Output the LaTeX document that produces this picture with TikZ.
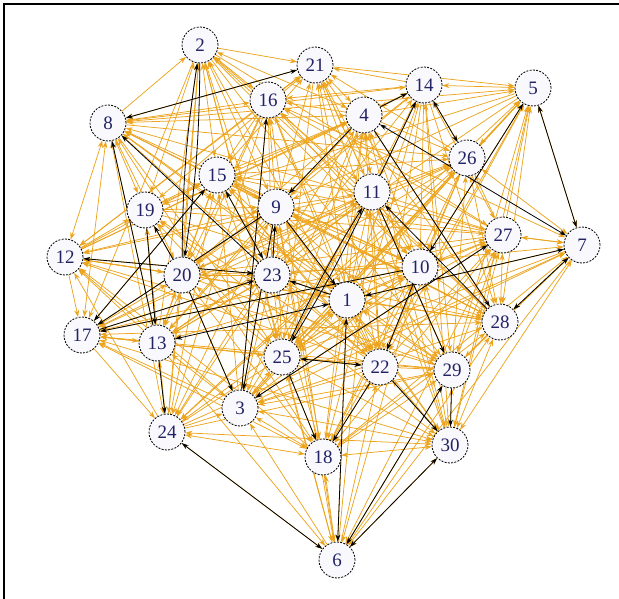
\documentclass[tikz,border=0pt]{standalone}
\usepackage{fontspec}
\setmainfont{Liberation Serif}
\usetikzlibrary{arrows.meta}
\pgfdeclarelayer{bg}
\pgfsetlayers{bg,main}
\definecolor{ocol}{RGB}{236,164,30}
\definecolor{ncol}{RGB}{248,248,253}
\definecolor{tcol}{RGB}{35,35,100}
\def\PX{{0,347,200,240,364,533,337,582,108,276,420,372,65,157,424,217,268,82,323,145,182,315,380,272,167,282,467,503,500,452,450}}
\def\PY{{0,300,45,408,115,88,560,245,123,207,267,192,257,343,85,175,100,335,457,210,275,65,367,275,432,357,158,235,322,370,445}}
\tikzset{
  vnode/.style={circle, draw=black, dash pattern=on 2pt off 1.3pt, line width=0.8pt,
    fill=ncol, minimum size=36pt, inner sep=0pt, text=tcol,
    font=\fontsize{19}{19}\selectfont},
  oe/.style={draw=ocol, line width=0.75pt, >={Stealth[length=7pt,width=5pt]}},
  be/.style={draw=black, line width=0.8pt, >={Stealth[length=7pt,width=4.5pt]}},
}
\begin{document}
\begin{tikzpicture}[x=1pt,y=-1pt]
\useasboundingbox (0,0) rectangle (619,599);
\draw[line width=1.2pt] (4,599) -- (4,4) -- (619,4);
\node[vnode] (n1) at (347,300) {1};
\node[vnode] (n2) at (200,45) {2};
\node[vnode] (n3) at (240,408) {3};
\node[vnode] (n4) at (364,115) {4};
\node[vnode] (n5) at (533,88) {5};
\node[vnode] (n6) at (337,560) {6};
\node[vnode] (n7) at (582,245) {7};
\node[vnode] (n8) at (108,123) {8};
\node[vnode] (n9) at (276,207) {9};
\node[vnode] (n10) at (420,267) {10};
\node[vnode] (n11) at (372,192) {11};
\node[vnode] (n12) at (65,257) {12};
\node[vnode] (n13) at (157,343) {13};
\node[vnode] (n14) at (424,85) {14};
\node[vnode] (n15) at (217,175) {15};
\node[vnode] (n16) at (268,100) {16};
\node[vnode] (n17) at (82,335) {17};
\node[vnode] (n18) at (323,457) {18};
\node[vnode] (n19) at (145,210) {19};
\node[vnode] (n20) at (182,275) {20};
\node[vnode] (n21) at (315,65) {21};
\node[vnode] (n22) at (380,367) {22};
\node[vnode] (n23) at (272,275) {23};
\node[vnode] (n24) at (167,432) {24};
\node[vnode] (n25) at (282,357) {25};
\node[vnode] (n26) at (467,158) {26};
\node[vnode] (n27) at (503,235) {27};
\node[vnode] (n28) at (500,322) {28};
\node[vnode] (n29) at (452,370) {29};
\node[vnode] (n30) at (450,445) {30};
\begin{pgfonlayer}{bg}
\pgfmathsetseed{7}
\foreach \i in {1,...,29}{
  \pgfmathtruncatemacro\istart{\i+1}
  \foreach \j in {\istart,...,30}{
    \pgfmathsetmacro\dd{veclen(\PX[\i]-\PX[\j],\PY[\i]-\PY[\j])}
    \pgfmathsetmacro\pp{1.1-\dd/600}
    \pgfmathsetmacro\rr{rnd}
    \pgfmathsetmacro\ss{rnd}
    \ifdim\rr pt<\pp pt
      \ifdim\ss pt<0.3pt \draw[oe,->] (n\i) -- (n\j);
      \else\ifdim\ss pt<0.6pt \draw[oe,<-] (n\i) -- (n\j);
      \else \draw[oe,<->] (n\i) -- (n\j); \fi\fi
    \fi
  }
}
% black edges
\draw[be,->] (n2) to[bend left=4] (n20);
\draw[be,->] (n20) to[bend left=4] (n2);
\draw[be,<->] (n8) -- (n21);
\draw[be,->] (n13) -- (n8);
\draw[be,->] (n23) -- (n8);
\draw[be,<->] (n14) -- (n26);
\draw[be,<->] (n5) -- (n10);
\draw[be,<->] (n5) -- (n7);
\draw[be,->] (n4) -- (n14);
\draw[be,->] (n11) -- (n14);
\draw[be,<->] (n4) -- (n7);
\draw[be,->] (n4) -- (n9);
\draw[be,->] (n4) -- (n28);
\draw[be,->] (n25) to[bend left=3] (n11);
\draw[be,->] (n11) to[bend left=3] (n25);
\draw[be,->] (n28) -- (n11);
\draw[be,->] (n11) -- (n29);
\draw[be,<->] (n1) -- (n7);
\draw[be,<->] (n7) -- (n28);
\draw[be,<->] (n27) -- (n3);
\draw[be,->] (n22) -- (n30);
\draw[be,->] (n29) -- (n30);
\draw[be,<->] (n6) -- (n29);
\draw[be,<->] (n6) -- (n30);
\draw[be,<->] (n24) -- (n6);
\draw[be,<->] (n1) -- (n6);
\draw[be,->] (n13) -- (n24);
\draw[be,->] (n10) -- (n17);
\draw[be,<->] (n17) -- (n15);
\draw[be,->] (n9) -- (n17);
\draw[be,<->] (n1) -- (n13);
\draw[be,->] (n17) -- (n23);
\draw[be,<->] (n12) -- (n23);
\draw[be,->] (n20) -- (n19);
\draw[be,->] (n19) -- (n13);
\draw[be,->] (n20) -- (n3);
\draw[be,->] (n3) -- (n16);
\draw[be,->] (n9) -- (n3);
\draw[be,<->] (n15) -- (n23);
\draw[be,->] (n23) -- (n9);
\draw[be,->] (n9) -- (n1);
\draw[be,->] (n1) -- (n23);
\draw[be,<->] (n25) -- (n22);
\draw[be,->] (n25) -- (n18);
\draw[be,->] (n22) -- (n18);
\draw[be,->] (n10) -- (n22);
\end{pgfonlayer}
\end{tikzpicture}
\end{document}
